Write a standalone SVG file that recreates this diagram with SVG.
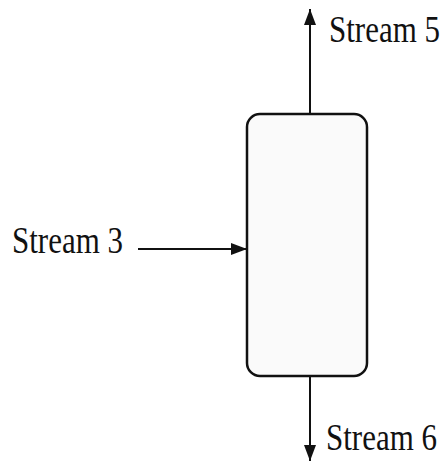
<svg xmlns="http://www.w3.org/2000/svg" width="441" height="462" viewBox="0 0 441 462">
<style>
.lbl{font-family:"Liberation Serif","Times New Roman",serif;font-size:31px;fill:#111}
.ln{stroke:#111;stroke-width:2;fill:none}
</style>
<defs>
<marker id="ahb" viewBox="0 0 10 10" refX="10" refY="5" markerWidth="16" markerHeight="12" orient="auto" markerUnits="userSpaceOnUse" preserveAspectRatio="none">
<path d="M0,0 L10,5 L0,10 z" fill="#111"/>
</marker>
</defs>
<rect width="441" height="462" fill="#fff"/>
<g id="column">
<rect x="247" y="114" width="120" height="262" rx="13" ry="13" fill="#fafafa" stroke="#111" stroke-width="2.5"/>
</g>
<g id="connectors">
<line class="ln" x1="310" y1="114" x2="310" y2="9" marker-end="url(#ahb)"/>
<line class="ln" x1="310" y1="376" x2="310" y2="461" marker-end="url(#ahb)"/>
<line class="ln" x1="138" y1="249" x2="247" y2="249" marker-end="url(#ahb)"/>
</g>
<g id="labels">
<text class="lbl" transform="translate(329,42) scale(1,1.2)">Stream 5</text>
<text class="lbl" transform="translate(12,253) scale(1,1.2)">Stream 3</text>
<text class="lbl" transform="translate(326,450) scale(1,1.2)">Stream 6</text>
</g>
</svg>
